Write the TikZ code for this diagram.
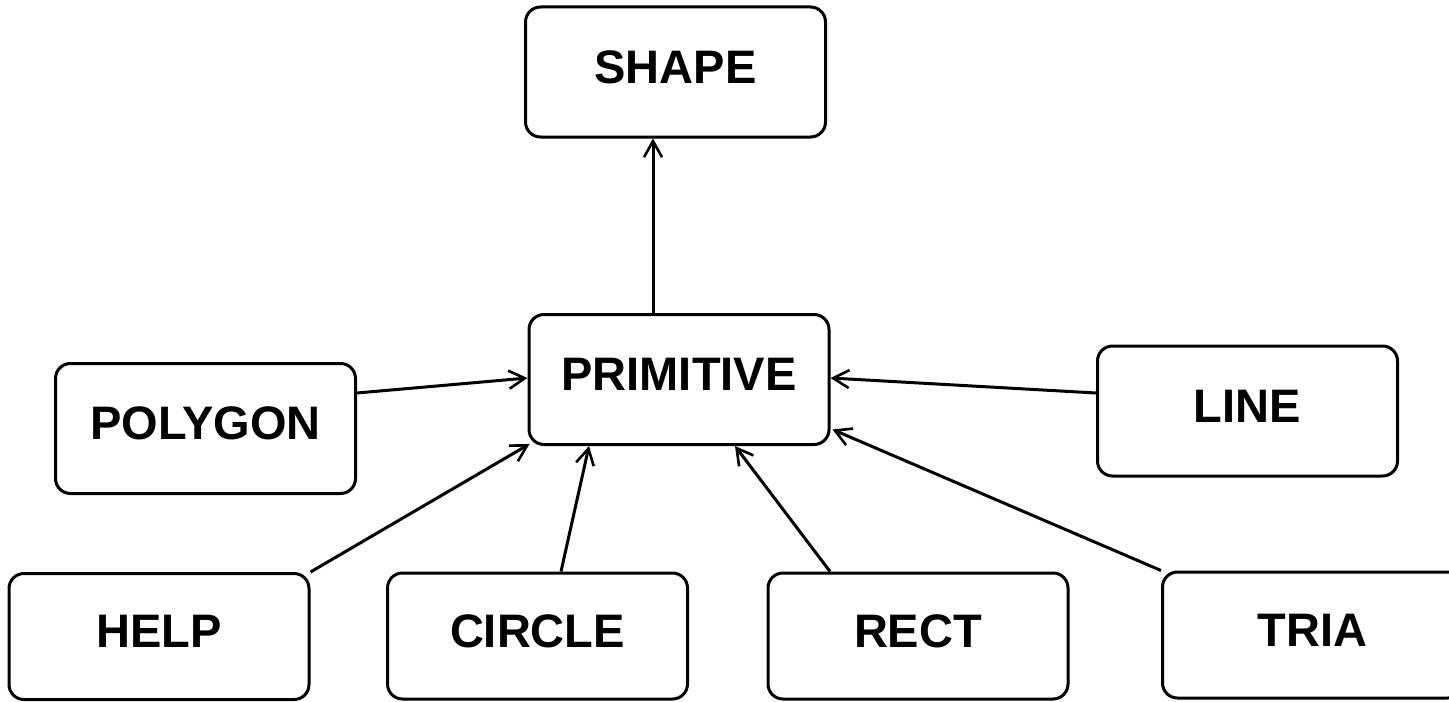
\documentclass[tikz,border=0pt]{standalone}
\usepackage{fontspec}
\setmainfont{Liberation Sans}
\usetikzlibrary{arrows.meta}
\begin{document}
\begin{tikzpicture}[x=0.5pt, y=-0.5pt,
  box/.style={draw, line width=1.5pt, rounded corners=7.5pt,
    minimum width=150pt, minimum height=65pt, inner sep=0pt,
    text depth=5pt, font=\fontsize{23.5}{23.5}\selectfont\bfseries},
  lowbox/.style={box, minimum height=63pt},
  link/.style={line width=1.5pt, -{Straight Barb[length=8pt, width=9pt, line width=1.3pt]}}]
  \useasboundingbox (0,0) rectangle (1449,701);

  % class boxes
  \node[box] (shape) at (675.5,72) {SHAPE};
  \node[box] (prim) at (679,379.5) {PRIMITIVE};
  \node[box] (polygon) at (205.5,428.5) {POLYGON};
  \node[box] (line) at (1247.5,411) {LINE};
  \node[lowbox] (help) at (159,636.5) {HELP};
  \node[lowbox] (circle) at (537.5,636) {CIRCLE};
  \node[lowbox] (rect) at (918,636) {RECT};
  \node[lowbox] (tria) at (1312.5,635) {TRIA};

  % inheritance arrows
  \draw[link] ([xshift=-13pt]prim.north) -- ([xshift=-11.25pt]shape.south);
  \draw[link] ([yshift=17.75pt]polygon.east) -- ([yshift=0.75pt]prim.west);
  \draw[link] ([yshift=9pt]line.west) -- ([yshift=0.75pt]prim.east);
  \draw[link] (help.north east) -- ([xshift=1pt,yshift=1pt]prim.south west);
  \draw[link] ([xshift=11.75pt]circle.north) -- ([xshift=-45pt]prim.south);
  \draw[link] ([xshift=-44pt]rect.north) -- ([xshift=28pt]prim.south);
  \draw[link] (tria.north west) -- ([xshift=1pt,yshift=-25pt]prim.east);
\end{tikzpicture}
\end{document}
